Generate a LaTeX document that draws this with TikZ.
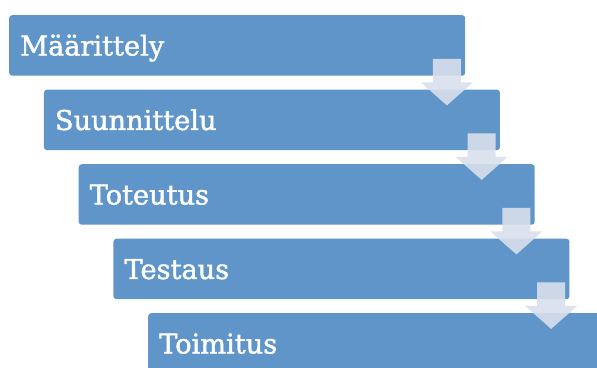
\documentclass[tikz,border=0pt]{standalone}
\usepackage{fontspec}
\setmainfont{DejaVu Serif}
\newfontfamily\lblfont{DejaVu Serif}[FakeBold=1.6]
\definecolor{boxblue}{HTML}{5F95C9}
\definecolor{arrowfill}{HTML}{D8DFEC}
\begin{document}
\begin{tikzpicture}[x=1pt,y=1pt,
  stagebox/.style={draw=none, fill=boxblue, rounded corners=3pt, minimum width=456pt, minimum height=60.5pt, anchor=north west, inner sep=0pt},
  stagelabel/.style={text=white, font=\lblfont\fontsize{27.2}{30}\selectfont, anchor=base west, inner sep=0pt},
  flowarrow/.style={fill=arrowfill, fill opacity=0.9, draw=none}]
\useasboundingbox (0,0) rectangle (597,-367);
\clip (0,0) rectangle (597,-367);
\node[stagebox] (b1) at (9,-15) {};
\node[stagebox] (b2) at (43.75,-89.5) {};
\node[stagebox] (b3) at (78.5,-164) {};
\node[stagebox] (b4) at (113.25,-238.5) {};
\node[stagebox] (b5) at (148,-313) {};
\node[stagelabel] (t1) at ([xshift=11pt,yshift=-10pt]b1.west) {Määrittely};
\node[stagelabel] (t2) at ([xshift=11pt,yshift=-10pt]b2.west) {Suunnittelu};
\node[stagelabel] (t3) at ([xshift=11pt,yshift=-10pt]b3.west) {Toteutus};
\node[stagelabel] (t4) at ([xshift=11pt,yshift=-10pt]b4.west) {Testaus};
\node[stagelabel] (t5) at ([xshift=11pt,yshift=-10pt]b5.west) {Toimitus};
\foreach \b in {b1,b2,b3,b4}{
  \coordinate (a-\b) at ([xshift=-18.5pt]\b.south east);
  \fill[flowarrow] ([shift={(-14,17)}]a-\b) -- ++(28,0) -- ++(0,-23.5) -- ++(12,0) -- ++(-26,-23) -- ++(-26,23) -- ++(12,0) -- cycle;
}
\end{tikzpicture}
\end{document}
